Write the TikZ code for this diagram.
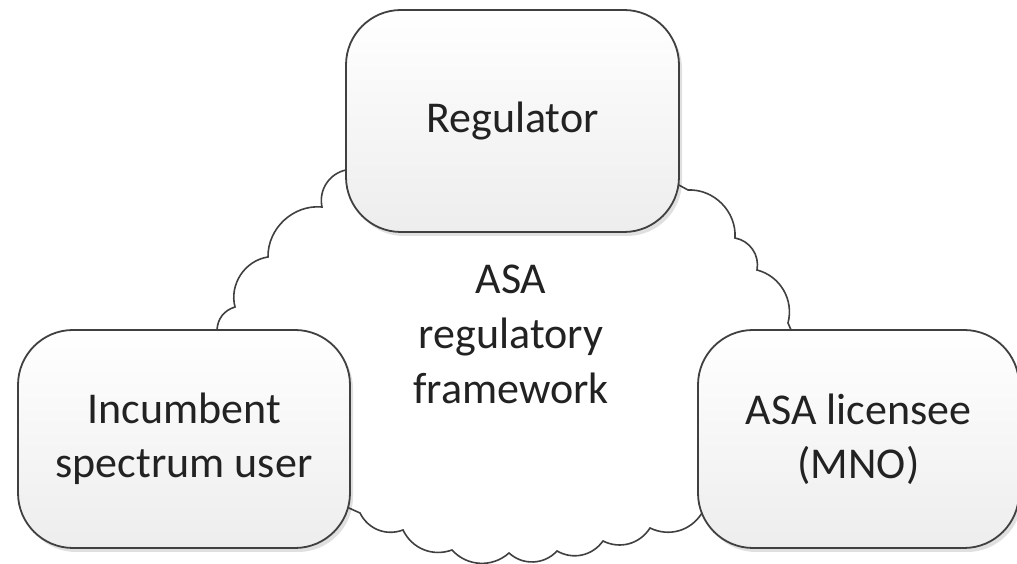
\documentclass[tikz,border=0pt]{standalone}
\usepackage{fontspec}
\setmainfont{Carlito}
\usetikzlibrary{shadows}
\definecolor{linegray}{HTML}{404040}
\definecolor{textgray}{HTML}{222222}
\tikzset{
  roundbox/.style={draw=linegray, line width=1.8pt, rounded corners=55pt,
    top color=white, bottom color=black!7, inner sep=0pt, align=center,
    text=textgray, font=\fontsize{44}{54}\selectfont,
    drop shadow={opacity=0.12, shadow xshift=3pt, shadow yshift=-4pt, fill=black}},
  cloudline/.style={draw=linegray, line width=1.6pt, fill=white},
  cloudtext/.style={align=center, text=textgray, font=\fontsize{44}{55}\selectfont, inner sep=0pt},
}
\begin{document}
\begin{tikzpicture}[x=1pt,y=1pt]
\useasboundingbox (0,0) rectangle (1017,564);
% cloud (behind the boxes)
\draw[cloudline] (380,400) -- (346,394)
  to[bend right=45] (322,357)
  to[bend right=48] (268,307)
  to[bend right=48] (235,257)
  to[bend right=35] (217,234)
  -- (300,150) -- (340,60) -- (360,51)
  to[bend right=42] (403,34)
  to[bend right=42] (452,14)
  to[bend right=45] (509,11)
  to[bend right=45] (557,13)
  to[bend right=42] (603,23)
  to[bend right=42] (650,36)
  to[bend right=42] (702,51)
  -- (740,100) -- (795,225) -- (788,241)
  to[bend right=45] (757,294)
  to[bend right=45] (735,326)
  to[bend right=48] (688,374)
  -- (640,400) -- cycle;
\node[cloudtext, anchor=north] (asa) at (511,299) {ASA\\regulatory\\framework};
% boxes
\node[roundbox, minimum width=333pt, minimum height=222pt] (reg) at (512.5,443) {Regulator};
\node[roundbox, minimum width=332pt, minimum height=218pt] (inc) at (184,125) {Incumbent\\spectrum user};
\node[roundbox, minimum width=321pt, minimum height=218pt] (lic) at (858.5,125) {ASA licensee\\(MNO)};
\end{tikzpicture}
\end{document}
